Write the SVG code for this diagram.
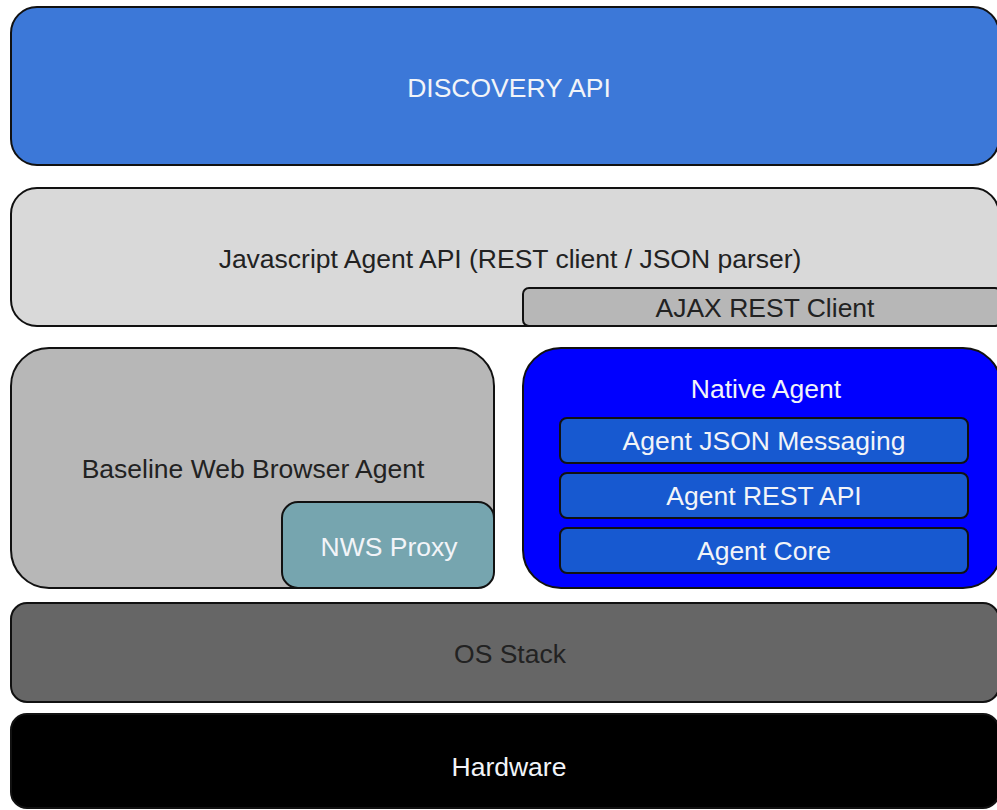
<svg xmlns="http://www.w3.org/2000/svg" width="997" height="810" viewBox="0 0 997 810">
  <style>
    .box { stroke: #111; stroke-width: 2; }
    .lbl { font-family: "Liberation Sans", Arial, sans-serif; font-size: 26.5px; text-anchor: middle; }
    .dark { fill: #222; }
    .light { fill: #f2f4f8; }
  </style>
  <rect width="997" height="810" fill="#ffffff"/>

  <g id="discovery-api">
    <rect class="box" x="11" y="7" width="988" height="158" rx="26" fill="#3c78d8"/>
    <text class="lbl light" x="509" y="97">DISCOVERY API</text>
  </g>

  <g id="javascript-agent-api">
    <rect class="box" x="11" y="188" width="988" height="138" rx="26" fill="#d9d9d9"/>
    <text class="lbl dark" x="510" y="268">Javascript Agent API (REST client / JSON parser)</text>
  </g>

  <g id="ajax-rest-client">
    <rect class="box" x="523" y="288" width="478" height="38" rx="6" fill="#b7b7b7"/>
    <text class="lbl dark" x="765" y="317">AJAX REST Client</text>
  </g>

  <g id="baseline-browser-agent">
    <rect class="box" x="11" y="348" width="483" height="240" rx="38" fill="#b7b7b7"/>
    <text class="lbl dark" x="253" y="478">Baseline Web Browser Agent</text>
  </g>

  <g id="nws-proxy">
    <rect class="box" x="282" y="502" width="212" height="86" rx="16" fill="#76a5af"/>
    <text class="lbl light" x="389" y="556">NWS Proxy</text>
  </g>

  <g id="native-agent">
    <rect class="box" x="523" y="348" width="478" height="240" rx="38" fill="#0000ff"/>
    <text class="lbl light" x="766" y="398">Native Agent</text>
  </g>

  <g id="agent-json-messaging">
    <rect class="box" x="560" y="418" width="408" height="45" rx="7" fill="#1759d0"/>
    <text class="lbl light" x="764" y="450">Agent JSON Messaging</text>
  </g>

  <g id="agent-rest-api">
    <rect class="box" x="560" y="473" width="408" height="45" rx="7" fill="#1759d0"/>
    <text class="lbl light" x="764" y="505">Agent REST API</text>
  </g>

  <g id="agent-core">
    <rect class="box" x="560" y="528" width="408" height="45" rx="7" fill="#1759d0"/>
    <text class="lbl light" x="764" y="560">Agent Core</text>
  </g>

  <g id="os-stack">
    <rect class="box" x="11" y="603" width="988" height="99" rx="16" fill="#666666"/>
    <text class="lbl dark" x="510" y="663">OS Stack</text>
  </g>

  <g id="hardware">
    <rect class="box" x="11" y="714" width="988" height="94" rx="16" fill="#000000"/>
    <text class="lbl light" x="509" y="776">Hardware</text>
  </g>

  <g id="connectors"></g>
</svg>
